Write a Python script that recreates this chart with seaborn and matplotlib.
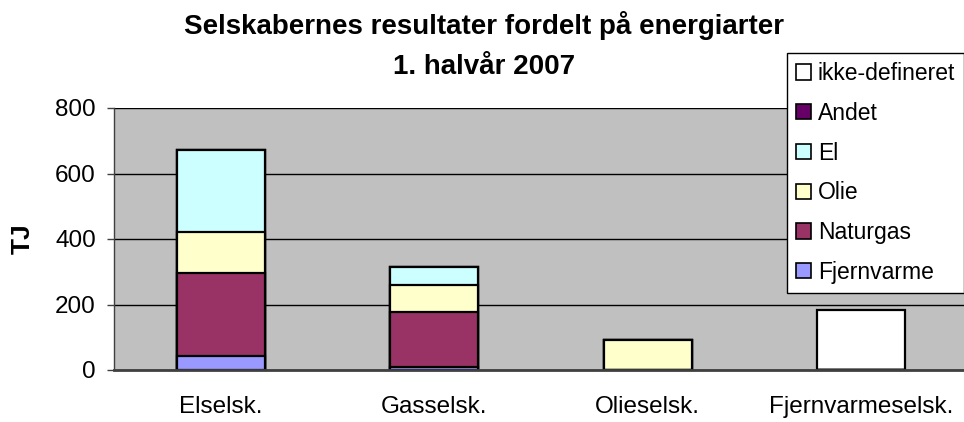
import matplotlib
matplotlib.use("Agg")
import matplotlib.pyplot as plt
import seaborn as sns
import pandas as pd
import numpy as np
from matplotlib.patches import Patch

categories = ["Elselsk.", "Gasselsk.", "Olieselsk.", "Fjernvarmeselsk."]
series_names = ["Fjernvarme", "Naturgas", "Olie", "El", "Andet", "ikke-defineret"]
fjernvarme = [43, 10, 0, 0]
naturgas = [254, 166, 0, 0]
olie = [123, 84, 92, 0]
el = [252, 56, 0, 0]
andet = [0, 0, 0, 0]
ikke_defineret = [0, 0, 0, 183]
series_values = [fjernvarme, naturgas, olie, el, andet, ikke_defineret]
colors = ["#9999FF", "#993366", "#FFFFCC", "#CCFFFF", "#660066", "#FFFFFF"]
y_ticks = [0, 200, 400, 600, 800]
title_lines = ["Selskabernes resultater fordelt på energiarter", "1. halvår 2007"]
y_label = "TJ"

sns.set_style("white")
plt.rcParams["font.family"] = ["Liberation Sans", "DejaVu Sans"]
plt.rcParams["text.color"] = "black"
plt.rcParams["axes.labelcolor"] = "black"
plt.rcParams["xtick.color"] = "black"
plt.rcParams["ytick.color"] = "black"

W, H = 964, 422
fig = plt.figure(figsize=(W / 100, H / 100), dpi=100)
ax = fig.add_axes([114 / W, 1 - 370 / H, 854 / W, 262 / H])
ax.set_facecolor("#C0C0C0")

cum = np.cumsum(np.array(series_values), axis=0)
# draw from the top of the stack down so lower segments overwrite
for i in range(len(series_names) - 1, -1, -1):
    df = pd.DataFrame({"cat": categories, "val": cum[i]})
    sns.barplot(data=df, x="cat", y="val", order=categories, color=colors[i],
                saturation=1, width=0.41, edgecolor="black", linewidth=1.6,
                ax=ax, zorder=3)

ax.set_xlim(-0.5, 3.5)
ax.set_ylim(0, 800)
ax.set_yticks(y_ticks)
ax.set_yticklabels([str(t) for t in y_ticks])
ax.yaxis.grid(True, color="black", linewidth=1.0)
ax.xaxis.grid(False)
ax.set_axisbelow(True)
ax.set_xlabel("")
ax.set_ylabel("")

ax.set_xticks(range(len(categories)))
ax.set_xticklabels(categories)
ax.set_xticks([-0.5, 0.5, 1.5, 2.5, 3.5], minor=True)
ax.tick_params(axis="x", which="major", length=0, pad=19, labelsize=17.5, labelcolor="black")
ax.tick_params(axis="x", which="minor", length=5, width=1.2, color="#404040", direction="out")
ax.tick_params(axis="y", which="major", length=5, width=1.0, color="#404040",
               direction="out", pad=8, labelsize=17.5, left=True, labelcolor="black")

for s in ["top", "right"]:
    ax.spines[s].set_visible(False)
ax.spines["left"].set_color("#404040")
ax.spines["left"].set_linewidth(1.0)
ax.spines["bottom"].set_color("#404040")
ax.spines["bottom"].set_linewidth(2.0)
ax.spines["bottom"].set_zorder(5)

fig.text(0.502, 1 - 34 / H, title_lines[0], ha="center", va="baseline",
         fontsize=20, fontweight="bold", color="black")
fig.text(0.502, 1 - 74 / H, title_lines[1], ha="center", va="baseline",
         fontsize=20, fontweight="bold", color="black")
fig.text(23 / W, 1 - 239 / H, y_label, ha="center", va="center", rotation=90,
         fontsize=19, fontweight="bold", color="black")

handles = [Patch(facecolor=colors[i], edgecolor="black", linewidth=1.2, label=series_names[i])
           for i in range(len(series_names) - 1, -1, -1)]
leg = fig.legend(handles=handles, loc="upper left",
                 bbox_to_anchor=(787 / W, 1 - 53 / H), bbox_transform=fig.transFigure,
                 fontsize=16.5, frameon=True, fancybox=False, shadow=False,
                 handlelength=0.65, handleheight=0.65, handletextpad=0.3,
                 labelspacing=0.73, borderpad=0.4, borderaxespad=0)
for t in leg.get_texts():
    t.set_color("black")
leg.get_frame().set_edgecolor("black")
leg.get_frame().set_linewidth(1.0)
leg.get_frame().set_facecolor("white")
leg.get_frame().set_alpha(1)

fig.savefig("out.png", dpi=100)
